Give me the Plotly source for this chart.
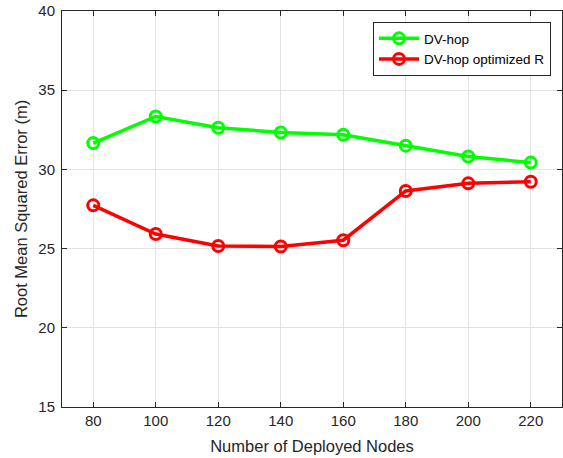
import plotly.graph_objects as go

nodes = [80, 100, 120, 140, 160, 180, 200, 220]
rmse_dvhop = [31.66, 33.34, 32.63, 32.33, 32.19, 31.50, 30.81, 30.43]
rmse_dvhop_opt = [27.73, 25.92, 25.16, 25.13, 25.53, 28.64, 29.12, 29.22]

series_names = ["DV-hop", "DV-hop optimized R"]
xticks = [80, 100, 120, 140, 160, 180, 200, 220]
yticks = [15, 20, 25, 30, 35, 40]

font_family = "Liberation Sans, Arial, sans-serif"
axis_color = "#262626"

fig = go.Figure()
for name, vals, color in [
    (series_names[0], rmse_dvhop, "#00ff00"),
    (series_names[1], rmse_dvhop_opt, "#ff0000"),
]:
    fig.add_trace(go.Scatter(
        x=nodes, y=vals, name=name, mode="lines+markers",
        line=dict(color=color, width=3.5),
        marker=dict(symbol="circle-open", size=11, color=color,
                    line=dict(width=3, color=color)),
    ))

axis_common = dict(
    showline=True, linecolor=axis_color, linewidth=1, mirror="allticks",
    ticks="inside", ticklen=5, tickcolor=axis_color, tickwidth=1,
    showgrid=True, gridcolor="#e3e3e3", gridwidth=1, zeroline=False,
    tickfont=dict(family=font_family, size=15, color=axis_color),
)

fig.update_layout(
    width=563, height=458,
    margin=dict(l=62, r=1, t=11, b=51),
    paper_bgcolor="white", plot_bgcolor="white",
    font=dict(family=font_family, color=axis_color),
    showlegend=True,
    legend=dict(
        x=0.978, y=0.972, xanchor="right", yanchor="top",
        bgcolor="white", bordercolor=axis_color, borderwidth=1,
        font=dict(family=font_family, size=13.5, color="#000000"),
        itemwidth=40, tracegroupgap=0,
    ),
    xaxis=dict(range=[70, 230], tickvals=xticks,
               title=dict(text="Number of Deployed Nodes", standoff=12,
                          font=dict(family=font_family, size=16.5, color=axis_color)),
               **axis_common),
    yaxis=dict(range=[15, 40], tickvals=yticks, ticklabelstandoff=3,
               title=dict(text="Root Mean Squared Error (m)", standoff=6,
                          font=dict(family=font_family, size=16.5, color=axis_color)),
               **axis_common),
)

fig.write_html("out.html")
